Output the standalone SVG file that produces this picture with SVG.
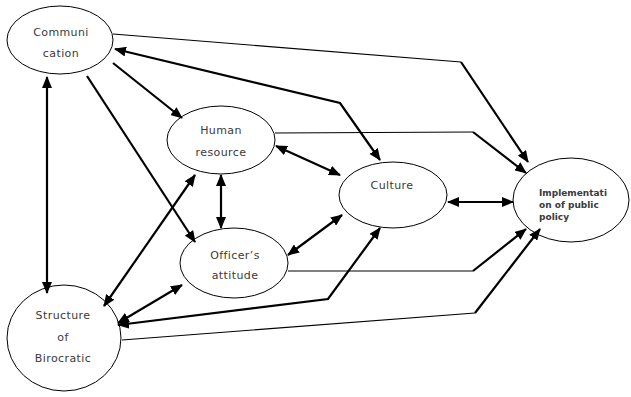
<svg xmlns="http://www.w3.org/2000/svg" width="631" height="397" viewBox="0 0 631 397">
<style>
.node ellipse{fill:none;stroke:#000;stroke-width:1}
.lbl{font-family:"DejaVu Sans",sans-serif;font-size:11px;fill:#3a3a3a;text-anchor:middle;letter-spacing:0.4px}
.lblb{font-family:"DejaVu Sans",sans-serif;font-size:9px;font-weight:bold;fill:#3a3a3a}
.thin{fill:none;stroke:#000;stroke-width:1.2}
.thick{fill:none;stroke:#000;stroke-width:2.2}
.one{marker-end:url(#ah)}
.two{marker-start:url(#ah);marker-end:url(#ah)}
</style>
<defs>
<marker id="ah" markerUnits="userSpaceOnUse" markerWidth="12" markerHeight="10" viewBox="0 0 12 10" refX="11" refY="5" orient="auto-start-reverse">
<path d="M0,0 L12,5 L0,10 Z" fill="#000"/>
</marker>
</defs>
<rect width="631" height="397" fill="#fff"/>
<g id="connectors">
<path class="thin" d="M113,34 L461,62"/>
<path class="thick one" d="M461,62 L528,162"/>
<path class="thick two" d="M115,49 L340,103 L380,160"/>
<path class="thick one" d="M113,63 L182,118"/>
<path class="thick one" d="M87,76 L195,242"/>
<path class="thick two" d="M47,77 L47,293"/>
<path class="thin" d="M275,133 L473,132"/>
<path class="thick one" d="M473,132 L526,173"/>
<path class="thick two" d="M276,146 L340,175"/>
<path class="thick two" d="M221,175 L221,228"/>
<path class="thick two" d="M288,255 L342,215"/>
<path class="thick two" d="M104,306 L195,175"/>
<path class="thick two" d="M118,323 L182,285"/>
<path class="thick two" d="M118,325 L328,299 L380,228"/>
<path class="thin" d="M288,271 L473,271"/>
<path class="thick one" d="M473,271 L526,229"/>
<path class="thin" d="M122,340 L475,313"/>
<path class="thick one" d="M475,313 L540,229"/>
<path class="thick two" d="M448,202 L513,202"/>
</g>
<g id="communication" class="node">
<ellipse cx="60" cy="40" rx="53" ry="34"/>
<text class="lbl" x="61" y="36">Communi</text>
<text class="lbl" x="61" y="57">cation</text>
</g>
<g id="human-resource" class="node">
<ellipse cx="221" cy="140" rx="54" ry="34"/>
<text class="lbl" x="221" y="134">Human</text>
<text class="lbl" x="221" y="156">resource</text>
</g>
<g id="officers-attitude" class="node">
<ellipse cx="234" cy="263" rx="54" ry="35"/>
<text class="lbl" x="235" y="259">Officer’s</text>
<text class="lbl" x="235" y="279">attitude</text>
</g>
<g id="culture" class="node">
<ellipse cx="393" cy="195" rx="54" ry="33"/>
<text class="lbl" x="392" y="189">Culture</text>
</g>
<g id="implementation" class="node">
<ellipse cx="571" cy="200" rx="58" ry="42"/>
<text class="lblb" x="539" y="196">Implementati</text>
<text class="lblb" x="539" y="208">on of public</text>
<text class="lblb" x="539" y="220">policy</text>
</g>
<g id="structure" class="node">
<ellipse cx="64" cy="338" rx="57" ry="53"/>
<text class="lbl" x="63" y="319">Structure</text>
<text class="lbl" x="63" y="341">of</text>
<text class="lbl" x="63" y="362">Birocratic</text>
</g>
</svg>
